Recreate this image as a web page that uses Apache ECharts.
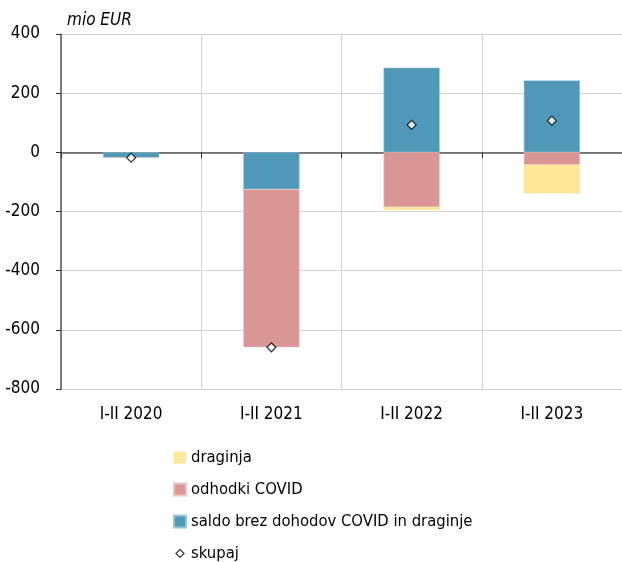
<!DOCTYPE html>
<html><head><meta charset="utf-8">
<script src="https://cdn.jsdelivr.net/npm/echarts@6/dist/echarts.min.js"></script>
<style>html,body{margin:0;padding:0;background:#fff}#c{width:622px;height:562px}</style>
</head><body><div id="c"></div>
<script>
const categories = ['I-II 2020', 'I-II 2021', 'I-II 2022', 'I-II 2023'];
const saldo = [-18, -125, 286, 243];
const odhodki = [0, -534, -185, -42];
const draginja = [0, 0, -10, -96];
const skupaj = [-18, -659, 93, 107];
const yTicks = [-800, -600, -400, -200, 0, 200, 400];

const FONT = '"Liberation Sans Narrow", "DejaVu Sans Condensed", sans-serif';
const chart = echarts.init(document.getElementById('c'), null, {renderer: 'canvas'});
chart.setOption({
  animation: false,
  backgroundColor: '#fff',
  textStyle: {fontFamily: FONT},
  title: {text: 'mio EUR', left: 62, top: 7,
    textStyle: {fontFamily: FONT, fontSize: 17, fontStyle: 'italic', fontWeight: 'normal', color: '#000'}},
  grid: {left: 61, right: 0, top: 34, bottom: 173, containLabel: false},
  legend: {
    orient: 'vertical', left: 168, top: 444, height: 130, itemGap: 15, itemWidth: 12, itemHeight: 12,
    textStyle: {fontFamily: FONT, fontSize: 16.5, fontWeight: 'normal', color: '#000'},
    data: [
      {name: 'draginja', icon: 'rect'},
      {name: 'odhodki COVID', icon: 'rect'},
      {name: 'saldo brez dohodov COVID in draginje', icon: 'rect'},
      {name: 'skupaj', icon: 'path://M5,1 L9,5 L5,9 L1,5 Z M5,-1 L5,-1 M5,11 L5,11', itemStyle: {color: '#fff', borderColor: '#000', borderWidth: 1.2}}
    ]
  },
  xAxis: [{
    type: 'category', data: categories, position: 'bottom',
    axisLine: {show: false, onZero: false}, axisTick: {show: false},
    axisLabel: {fontFamily: FONT, fontSize: 17, color: '#000', margin: 17},
    splitLine: {show: true, lineStyle: {color: '#d4d4d4', width: 1}}
  }, {
    type: 'category', data: categories, position: 'bottom',
    axisLine: {show: true, onZero: true, lineStyle: {color: '#555', width: 1.5}},
    axisTick: {show: true, length: 6, lineStyle: {color: '#333'}},
    axisLabel: {show: false}, splitLine: {show: false}
  }],
  yAxis: {
    type: 'value', min: -800, max: 400, interval: 200,
    axisLine: {show: true, lineStyle: {color: '#555', width: 1.5}},
    axisTick: {show: true, length: 5, lineStyle: {color: '#333'}},
    axisLabel: {fontFamily: FONT, fontSize: 17, color: '#000', margin: 21,
      formatter: v => yTicks.includes(v) ? String(v) : ''},
    splitLine: {show: true, lineStyle: {color: '#d4d4d4', width: 1}}
  },
  series: [
    {name: 'saldo brez dohodov COVID in draginje', type: 'bar', stack: 't', data: saldo, barWidth: '40%',
      itemStyle: {color: '#4F98B8', borderColor: '#9cc6d8', borderWidth: 0.5}},
    {name: 'odhodki COVID', type: 'bar', stack: 't', data: odhodki, barWidth: '40%',
      itemStyle: {color: '#D99694', borderColor: '#ecc5c4', borderWidth: 0.5}},
    {name: 'draginja', type: 'bar', stack: 't', data: draginja, barWidth: '40%',
      itemStyle: {color: '#FFE699'}},
    {name: 'skupaj', type: 'scatter', data: skupaj, symbol: 'diamond', symbolSize: 9, z: 5,
      itemStyle: {color: '#fff', borderColor: '#000', borderWidth: 1.2}}
  ]
});
</script></body></html>
